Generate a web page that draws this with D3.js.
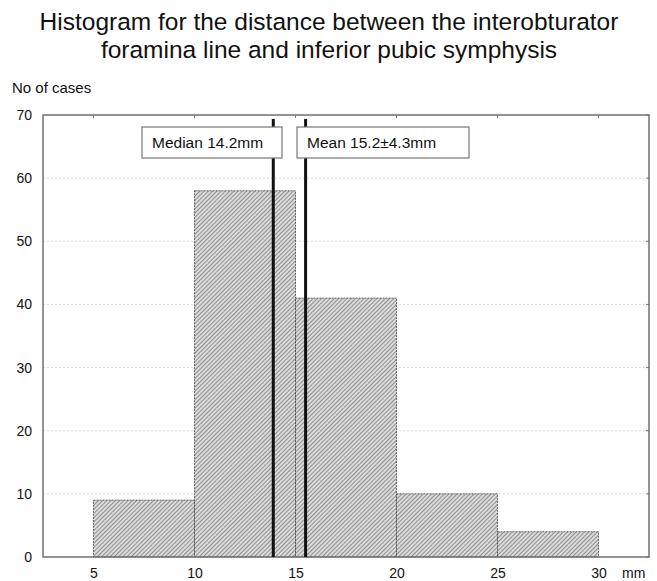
<!DOCTYPE html>
<html>
<head>
<meta charset="utf-8">
<script src="https://cdn.jsdelivr.net/npm/d3@7"></script>
<style>
  body { margin: 0; background: #fff; }
  text { font-family: "Liberation Sans", Arial, sans-serif; fill: #111; }
</style>
</head>
<body>
<svg id="chart" width="657" height="581"></svg>
<script>
// histogram bins (mm) and counts
const binStarts = [5, 10, 15, 20, 25];
const binWidth = 5;
const counts = [9, 58, 41, 10, 4];
const xTicks = [5, 10, 15, 20, 25, 30];
const yTicks = [0, 10, 20, 30, 40, 50, 60, 70];
// reference lines: where they are drawn, and the label text
const markerNames = ["Median 14.2mm", "Mean 15.2\u00b14.3mm"];
const markerPos = [13.9, 15.5];
const titleLines = ["Histogram for the distance between the interobturator",
                    "foramina line and inferior pubic symphysis"];

const margin = { top: 115, right: 8, bottom: 24, left: 43 };
const width = 657, height = 581;

const svg = d3.select("#chart");

const x = d3.scaleLinear().domain([2.5, 32.5]).range([margin.left, width - margin.right]);
const y = d3.scaleLinear().domain([0, 70]).range([height - margin.bottom, margin.top]);

const defs = svg.append("defs");
const pat = defs.append("pattern")
  .attr("id", "hatch")
  .attr("patternUnits", "userSpaceOnUse")
  .attr("width", 3).attr("height", 3)
  .attr("patternTransform", "rotate(45)");
pat.append("rect").attr("width", 3).attr("height", 3).attr("fill", "#dadada");
pat.append("line").attr("x1", 0).attr("y1", 0).attr("x2", 0).attr("y2", 3)
  .attr("stroke", "#606060").attr("stroke-width", 1.2);

// title
svg.append("g").selectAll("text")
  .data(titleLines)
  .join("text")
  .attr("x", 329)
  .attr("y", (d, i) => 30 + i * 28)
  .attr("text-anchor", "middle")
  .style("font-size", "24.5px")
  .text(d => d);

svg.append("text")
  .attr("x", 12).attr("y", 93)
  .style("font-size", "15px")
  .text("No of cases");

// grid
svg.append("g")
  .selectAll("line")
  .data(yTicks.slice(1, -1))
  .join("line")
  .attr("x1", margin.left).attr("x2", width - margin.right)
  .attr("y1", d => y(d)).attr("y2", d => y(d))
  .attr("stroke", "#dcdcdc")
  .attr("stroke-dasharray", "2,2");

// bars
svg.append("g")
  .selectAll("rect")
  .data(counts)
  .join("rect")
  .attr("x", (d, i) => x(binStarts[i]))
  .attr("y", d => y(d))
  .attr("width", (d, i) => x(binStarts[i] + binWidth) - x(binStarts[i]))
  .attr("height", d => y(0) - y(d))
  .attr("fill", "url(#hatch)")
  .attr("stroke", "#444")
  .attr("stroke-width", 0.8)
  .attr("stroke-dasharray", "2,1");

// axes
const xAxis = d3.axisBottom(x).tickValues(xTicks).tickSize(0).tickPadding(11);
svg.append("g")
  .attr("transform", `translate(0,${y(0)})`)
  .call(xAxis)
  .call(g => g.select(".domain").remove())
  .call(g => g.selectAll("text").style("font-size", "14px").attr("fill", "#111"));

const yAxis = d3.axisLeft(y).tickValues(yTicks).tickSize(0).tickPadding(11);
svg.append("g")
  .attr("transform", `translate(${margin.left},0)`)
  .call(yAxis)
  .call(g => g.select(".domain").remove())
  .call(g => g.selectAll("text").style("font-size", "14px").attr("fill", "#111"));

// inner ticks on top and right
svg.append("g").selectAll("line")
  .data(xTicks)
  .join("line")
  .attr("x1", d => x(d)).attr("x2", d => x(d))
  .attr("y1", y(70)).attr("y2", y(70) + 3)
  .attr("stroke", "#777");
svg.append("g").selectAll("line")
  .data(yTicks)
  .join("line")
  .attr("x1", x(32.5) - 3).attr("x2", x(32.5))
  .attr("y1", d => y(d)).attr("y2", d => y(d))
  .attr("stroke", "#777");

// frame
svg.append("rect")
  .attr("x", x(2.5)).attr("y", y(70))
  .attr("width", x(32.5) - x(2.5)).attr("height", y(0) - y(70))
  .attr("fill", "none")
  .attr("stroke", "#707070")
  .attr("stroke-width", 1.5);

svg.append("text")
  .attr("x", 622).attr("y", 578)
  .style("font-size", "14px")
  .text("mm");

// median / mean lines
svg.append("g").selectAll("line")
  .data(markerPos)
  .join("line")
  .attr("x1", d => x(d)).attr("x2", d => x(d))
  .attr("y1", 119).attr("y2", y(0))
  .attr("stroke", "#111")
  .attr("stroke-width", 3);

// label boxes
const boxes = [
  { x0: 142, x1: 282 },
  { x0: 297, x1: 469 }
];
const lab = svg.append("g").selectAll("g")
  .data(markerNames)
  .join("g");
lab.append("rect")
  .attr("x", (d, i) => boxes[i].x0)
  .attr("y", 127)
  .attr("width", (d, i) => boxes[i].x1 - boxes[i].x0)
  .attr("height", 31)
  .attr("fill", "#fff")
  .attr("stroke", "#777")
  .attr("stroke-width", 1.2);
lab.append("text")
  .attr("x", (d, i) => boxes[i].x0 + 10)
  .attr("y", 148)
  .style("font-size", "15.5px")
  .text(d => d);
</script>
</body>
</html>
